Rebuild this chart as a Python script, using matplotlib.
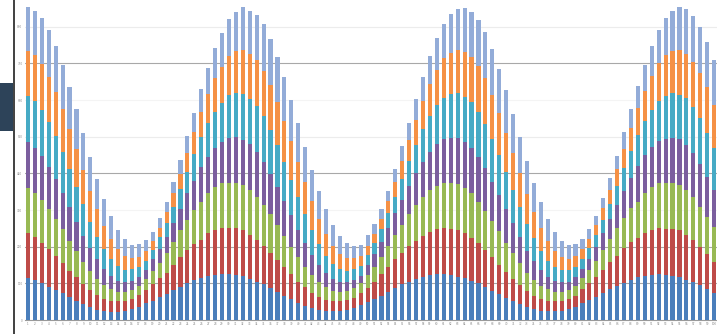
import numpy as np
import matplotlib
matplotlib.use('Agg')
import matplotlib.pyplot as plt
from matplotlib.patches import Rectangle
from matplotlib.lines import Line2D

# 積み上げ棒グラフ (7系列 x 100本)

labels = [str(i) for i in range(1, 101)]

s1 = [127, 120, 111, 100, 90, 80, 68, 58, 49, 40, 31, 27, 25, 24, 26, 32, 40, 50, 57, 70,
      78, 90, 100, 110, 120, 125, 132, 135, 138, 138, 135, 132, 122, 115, 107, 95, 85, 73, 62, 52,
      43, 35, 30, 27, 26, 28, 31, 37, 45, 55, 62, 73, 83, 95, 107, 115, 123, 130, 135, 138,
      138, 135, 130, 125, 118, 110, 100, 88, 77, 67, 56, 47, 39, 32, 28, 26, 26, 28, 33, 40,
      50, 60, 70, 81, 92, 102, 112, 120, 128, 132, 135, 138, 135, 132, 128, 120, 113, 105, 93, 82]
s2 = [133, 129, 121, 114, 102, 92, 80, 70, 59, 50, 44, 37, 32, 32, 31, 30, 35, 40, 51, 55,
      64, 75, 90, 100, 108, 115, 128, 135, 137, 137, 140, 138, 134, 125, 115, 107, 95, 85, 75, 63,
      55, 47, 40, 34, 31, 29, 29, 30, 35, 42, 53, 65, 75, 87, 95, 107, 115, 123, 130, 134,
      137, 138, 140, 135, 129, 120, 110, 102, 88, 78, 68, 57, 48, 41, 35, 31, 30, 29, 29, 33,
      42, 50, 60, 70, 81, 91, 103, 113, 117, 128, 135, 137, 138, 140, 142, 135, 127, 115, 105, 93]
s3 = [137, 133, 128, 118, 111, 101, 90, 79, 67, 58, 49, 41, 35, 28, 27, 27, 28, 32, 40, 47,
      60, 70, 80, 90, 102, 115, 120, 128, 137, 137, 135, 135, 134, 130, 123, 115, 105, 94, 83, 73,
      62, 52, 43, 37, 31, 27, 27, 28, 30, 37, 45, 52, 64, 73, 83, 95, 107, 117, 125, 131,
      135, 137, 137, 135, 133, 125, 118, 108, 102, 87, 78, 66, 55, 47, 40, 35, 28, 27, 28, 30,
      33, 40, 48, 58, 69, 82, 90, 102, 110, 122, 128, 135, 139, 138, 135, 135, 128, 120, 112, 103]
s4 = [138, 135, 132, 128, 119, 109, 100, 88, 78, 67, 58, 49, 41, 34, 29, 29, 26, 28, 34, 40,
      48, 56, 64, 80, 88, 105, 108, 117, 123, 133, 138, 135, 138, 135, 130, 121, 115, 106, 95, 82,
      72, 61, 52, 42, 35, 30, 27, 25, 23, 31, 37, 45, 53, 65, 75, 86, 97, 105, 115, 125,
      132, 135, 138, 140, 135, 135, 127, 117, 108, 100, 88, 78, 66, 58, 47, 38, 33, 29, 25, 25,
      27, 32, 42, 52, 60, 70, 83, 90, 108, 113, 122, 127, 131, 137, 137, 135, 132, 128, 120, 112]
s5 = [137, 140, 138, 135, 130, 122, 114, 103, 94, 80, 68, 58, 49, 43, 37, 34, 30, 28, 28, 36,
      42, 49, 58, 65, 80, 88, 104, 110, 117, 130, 132, 138, 136, 137, 137, 132, 125, 115, 105, 98,
      85, 75, 62, 53, 45, 40, 34, 32, 30, 30, 33, 37, 45, 50, 63, 74, 83, 97, 107, 117,
      125, 132, 135, 135, 140, 135, 133, 127, 120, 111, 100, 90, 80, 67, 58, 48, 41, 37, 35, 32,
      30, 33, 35, 39, 46, 58, 67, 83, 91, 103, 110, 121, 130, 133, 133, 140, 138, 137, 132, 125]
s6 = [136, 137, 138, 135, 133, 128, 120, 114, 103, 93, 82, 71, 60, 51, 42, 33, 31, 30, 28, 27,
      31, 42, 47, 57, 67, 77, 86, 100, 108, 117, 128, 132, 134, 138, 136, 135, 130, 125, 117, 107,
      98, 86, 75, 64, 54, 44, 39, 33, 29, 27, 28, 31, 38, 45, 54, 63, 75, 85, 96, 105,
      118, 125, 130, 135, 135, 137, 137, 133, 127, 119, 110, 102, 90, 78, 67, 58, 49, 40, 34, 32,
      30, 27, 30, 35, 42, 49, 58, 68, 81, 90, 103, 112, 122, 128, 135, 133, 137, 137, 136, 130]
s7 = [130, 134, 137, 140, 137, 132, 128, 120, 110, 102, 91, 80, 70, 58, 50, 40, 37, 32, 27, 30,
      32, 33, 41, 50, 57, 67, 79, 92, 102, 110, 117, 128, 130, 135, 139, 137, 135, 130, 123, 115,
      105, 94, 85, 75, 63, 54, 43, 37, 33, 33, 30, 30, 30, 38, 46, 52, 63, 73, 84, 95,
      103, 116, 123, 130, 135, 138, 138, 137, 131, 128, 118, 108, 99, 89, 78, 66, 56, 48, 41, 35,
      30, 30, 28, 30, 35, 41, 51, 58, 68, 77, 90, 100, 110, 119, 128, 134, 137, 136, 135, 135]

series = [s1, s2, s3, s4, s5, s6, s7]
colors = ['#4a7ebb', '#be4b48', '#98b954', '#7b5e9e', '#46aac5', '#f59145', '#93acd8']

W, H = 717, 334
fig = plt.figure(figsize=(W / 100, H / 100), dpi=100)
fig.patch.set_facecolor('white')

# 軸の位置 (ピクセル基準)
x0, x1 = 24.5, 717.6
ax = fig.add_axes([x0 / W, 14 / H, (x1 - x0) / W, 320 / H])
ax.set_facecolor('white')

x = np.arange(len(labels))
bottom = np.zeros(len(labels))
for vals, c in zip(series, colors):
    v = np.array(vals, dtype=float)
    ax.bar(x, v, bottom=bottom, width=0.6, color=c, linewidth=0, zorder=3)
    bottom += v

ax.set_xlim(-0.5, len(labels) - 0.5)
ax.set_ylim(0, 960)
yt = np.arange(0, 881, 110)
ax.set_yticks(yt)
ax.set_yticklabels([str(v) for v in yt], fontsize=2.0, color='#8a8a8a')
ax.set_xticks(x)
ax.set_xticklabels(labels, fontsize=2.0, color='#8a8a8a')
ax.tick_params(axis='both', length=0, pad=1.5)

ax.grid(axis='y', zorder=0)
grid_cols = ['#ffffff', '#a8a8a8', '#a8a8a8', '#f4f4f4', '#a8a8a8', '#ececec', '#f4f4f4', '#a8a8a8', '#ececec']
for gl, gc in zip(ax.get_ygridlines(), grid_cols):
    gl.set_color(gc)
    gl.set_linewidth(0.8)

for s in ['top', 'right', 'left']:
    ax.spines[s].set_visible(False)
ax.spines['bottom'].set_color('#9a9a9a')
ax.spines['bottom'].set_linewidth(0.8)

# 左端の枠線と濃紺の四角
fig.add_artist(Line2D([13.5 / W, 13.5 / W], [0, 1], color='#202020', lw=1.2))
fig.add_artist(Rectangle((0, 1 - 131 / H), 13 / W, 48 / H, color='#2d4359', lw=0))

fig.savefig('out.png', dpi=100)
